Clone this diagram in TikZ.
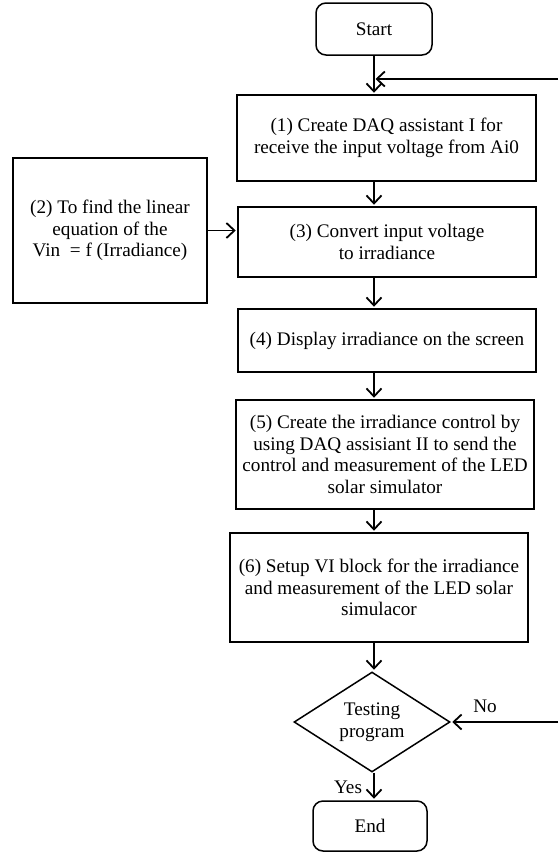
\documentclass[tikz,border=0pt]{standalone}
\usepackage{fontspec}
\setmainfont{Liberation Serif}
\usetikzlibrary{arrows.meta,shapes.geometric}
\begin{document}
\begin{tikzpicture}[x=1pt,y=-1pt,
  every node/.style={font=\fontsize{19.2}{21.6}\selectfont},
  box/.style={draw,line width=1.5pt,rectangle,align=center,inner sep=0pt},
  term/.style={box,rounded corners=10pt},
  dec/.style={draw,line width=1.5pt,diamond,align=center,inner sep=0pt,aspect=1.56},
  arr/.style={line width=1.7pt,shorten >=1.5pt,-{Straight Barb[length=8pt,width=15pt,line width=1.8pt]}}]
\useasboundingbox (0,0) rectangle (558,852);

\node[term,minimum width=116pt,minimum height=52pt] (start) at (374,29) {Start};
\node[box,minimum width=299pt,minimum height=86pt] (b1) at (386.5,138) {(1) Create DAQ assistant I for\\receive the input voltage from Ai0};
\node[box,minimum width=194pt,minimum height=145pt] (b2) at (110,230.5) {(2) To find the linear\\equation of the\\Vin\ \ = f (Irradiance)};
\node[box,minimum width=298pt,minimum height=70pt] (b3) at (387,242) {(3) Convert input voltage\\to irradiance};
\node[box,minimum width=298pt,minimum height=63pt] (b4) at (387,340.5) {(4) Display irradiance on the screen};
\node[box,minimum width=298pt,minimum height=109pt] (b5) at (385,454.5) {(5) Create the irradiance control by\\using DAQ assisiant II to send the\\control and measurement of the LED\\solar simulator};
\node[box,minimum width=298pt,minimum height=109pt] (b6) at (379,587.5) {(6) Setup VI block for the irradiance\\and measurement of the LED solar\\simulacor};
\node[dec,minimum width=156pt,minimum height=100pt] (dec) at (372,722) {Testing\\program};
\node[term,minimum width=114pt,minimum height=50pt] (end) at (370,826) {End};

\node (no) at (485,706) {No};
\node (yes) at (348,787) {Yes};

\coordinate (fb1) at (558,79);
\coordinate (fb2) at (558,722);

\draw[arr] (start.south) -- (start.south |- b1.north);
\draw[arr] (fb1) -- (fb1 -| start.south);
\draw[arr] (start.south |- b1.south) -- (start.south |- b3.north);
\draw[arr] (b2.east) -- (b2.east -| b3.west);
\draw[arr] (start.south |- b3.south) -- (start.south |- b4.north);
\draw[arr] (start.south |- b4.south) -- (start.south |- b5.north);
\draw[arr] (start.south |- b5.south) -- (start.south |- b6.north);
\draw[arr] (start.south |- b6.south) -- (start.south |- dec.north);
\draw[arr] (fb2) -- (dec.east);
\draw[arr] (start.south |- dec.south) -- (start.south |- end.north);
\end{tikzpicture}
\end{document}
